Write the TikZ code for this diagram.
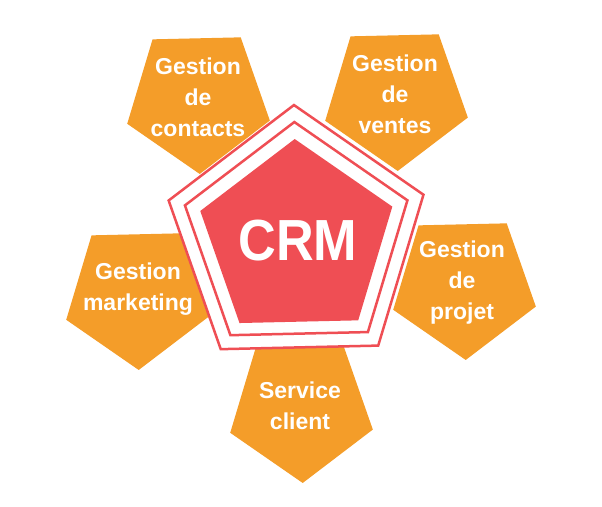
\documentclass[tikz,border=0pt]{standalone}
\usepackage{fontspec}
\setmainfont{Liberation Sans}
\newfontfamily\crmfont[FakeStretch=0.9]{Liberation Sans}
\usepackage{tikz}
\usetikzlibrary{shapes.geometric}
\definecolor{crmred}{RGB}{239,78,84}
\definecolor{petalorange}{RGB}{244,157,41}

\begin{document}
\begin{tikzpicture}[x=1pt, y=-1pt,
    petal/.style={regular polygon, regular polygon sides=5, shape border rotate=181.3,
        minimum size=150pt, inner sep=0pt, fill=petalorange},
    core/.style={regular polygon, regular polygon sides=5, shape border rotate=1.3,
        inner sep=0pt},
    lbl/.style={text=white, font=\bfseries\fontsize{23}{31}\selectfont, align=center,
        inner sep=0pt}]
    \useasboundingbox (0,0) rectangle (602,506);

    % Pétales oranges
    \node[petal] (contacts) at (198,99) {};
    \node[petal] (ventes) at (396,96) {};
    \node[petal] (marketing) at (137,295) {};
    \node[petal] (projet) at (464,285) {};
    \node[petal] (service) at (301,408) {};

    % Pentagone central
    \node[core, minimum size=268pt, fill=white, draw=crmred, line width=2.5pt] (outer) at (297,239) {};
    \node[core, minimum size=234pt, draw=crmred, line width=2.5pt] (inner) at (297,239) {};
    \node[core, minimum size=202pt, fill=crmred] (crm) at (297,240) {};

    % Textes
    \node[lbl] (tcontacts) at (198,97) {Gestion\\de\\contacts};
    \node[lbl] (tventes) at (395,94) {Gestion\\de\\ventes};
    \node[lbl] (tmarketing) at (138,289) {Gestion\\marketing};
    \node[lbl] (tprojet) at (462,283) {Gestion\\de\\projet};
    \node[lbl] (tservice) at (300,406) {Service\\client};
    \node[text=white, font=\crmfont\bfseries\fontsize{58}{58}\selectfont, inner sep=0pt] (tcrm) at (298,241) {CRM};
\end{tikzpicture}
\end{document}
